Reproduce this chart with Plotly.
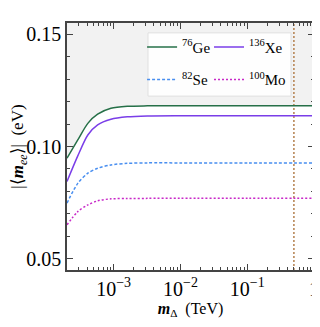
import numpy as np
import plotly.graph_objects as pgo

# m_Delta sample points (TeV) and |<m_ee>| (eV)
m_delta = [2.0e-4, 2.9e-4, 4.1e-4, 5.75e-4, 9.1e-4, 1.6e-3, 3.2e-3, 1e-2, 1e-1, 1.0]
mee_ge = [0.0948, 0.1029, 0.1103, 0.1144, 0.1170, 0.1179, 0.1181, 0.1181, 0.1181, 0.1181]
mee_xe = [0.0844, 0.0958, 0.1051, 0.1096, 0.1121, 0.1132, 0.1136, 0.1137, 0.1137, 0.1137]
mee_se = [0.0748, 0.0836, 0.0881, 0.0903, 0.0918, 0.0925, 0.0927, 0.0927, 0.0927, 0.0927]
mee_mo = [0.0651, 0.0710, 0.0740, 0.0758, 0.0767, 0.0768, 0.0769, 0.0769, 0.0769, 0.0769]

m_cut = 0.5  # TeV, vertical marker

x_range = [2.0e-4, 1.0]
y_range = [0.045, 0.155]

x_tickvals = [1e-3, 1e-2, 1e-1, 1.0]
x_ticktext = ['10<sup>\u22123</sup>', '10<sup>\u22122</sup>', '10<sup>\u22121</sup>', '1']
y_tickvals = [0.05, 0.10, 0.15]
y_ticktext = ['0.05', '0.10', '0.15']

FONT = 'Liberation Serif'
c_ge = 'rgb(38,112,72)'
c_xe = 'rgb(122,62,232)'
c_se = 'rgb(72,142,240)'
c_mo = 'rgb(200,40,200)'

fig = pgo.Figure()

# grey excluded region above the Ge curve
fig.add_trace(pgo.Scatter(x=m_delta, y=[y_range[1]] * len(m_delta), mode='lines',
                          line=dict(width=0), showlegend=False, hoverinfo='skip'))
fig.add_trace(pgo.Scatter(x=m_delta, y=mee_ge, mode='lines', fill='tonexty',
                          fillcolor='rgb(242,242,242)',
                          line=dict(width=0, shape='spline', smoothing=0.8),
                          showlegend=False, hoverinfo='skip'))

# vertical marker
fig.add_trace(pgo.Scatter(x=[m_cut, m_cut], y=y_range, mode='lines',
                          line=dict(color='rgb(180,128,78)', width=1.5, dash='2px,2px'),
                          showlegend=False, hoverinfo='skip'))

series = [
    ('<sup>76</sup>Ge', mee_ge, c_ge, 'solid', 'legend', 'g1'),
    ('<sup>136</sup>Xe', mee_xe, c_xe, 'solid', 'legend2', 'g3'),
    ('<sup>82</sup>Se', mee_se, c_se, '3px,2px', 'legend', 'g2'),
    ('<sup>100</sup>Mo', mee_mo, c_mo, '2px,2px', 'legend2', 'g4'),
]
for name, vals, col, dash, leg, grp in series:
    fig.add_trace(pgo.Scatter(x=m_delta, y=vals, mode='lines', name=name,
                              line=dict(color=col, width=1.5, dash=dash,
                                        shape='spline', smoothing=0.8),
                              legend=leg, legendgroup=grp))

minor_x = [k * 10.0 ** e for e in range(-4, 0) for k in range(2, 10)]
minor_x = [v for v in minor_x if x_range[0] <= v <= x_range[1]]

axis_common = dict(showline=True, linecolor='#444', linewidth=1.5, mirror='ticks',
                   ticks='inside', ticklen=6, tickwidth=1.2, tickcolor='#444',
                   showgrid=False, zeroline=False, automargin=False,
                   tickfont=dict(family=FONT, size=20, color='black'))

fig.update_xaxes(type='log', range=[np.log10(x_range[0]), np.log10(x_range[1])],
                 tickmode='array', tickvals=x_tickvals, ticktext=x_ticktext,
                 minor=dict(tickmode='array', tickvals=minor_x, ticks='inside',
                            ticklen=3, tickcolor='#444', showgrid=False),
                 title=dict(text='<b><i>m</i></b><sub>\u0394</sub>  (TeV)',
                            font=dict(family=FONT, size=16, color='black'), standoff=3),
                 **axis_common)
fig.update_yaxes(range=y_range, tickmode='array', tickvals=y_tickvals, ticktext=y_ticktext,
                 minor=dict(dtick=0.01, tick0=0.05, ticks='inside', ticklen=3,
                            tickcolor='#444', showgrid=False),
                 title=dict(text='|\u27e8<b><i>m</i></b><sub><i>ee</i></sub>\u27e9|  (eV)',
                            font=dict(family=FONT, size=17, color='black'), standoff=4),
                 **axis_common)

legend_common = dict(bgcolor='rgba(0,0,0,0)', borderwidth=0, orientation='v',
                     xanchor='left', yanchor='top', y=0.969, tracegroupgap=10,
                     itemwidth=30, font=dict(family=FONT, size=15, color='black'))

# page body keeps an 8px default margin, so the figure is 8px smaller than the window
fig.update_layout(
    width=312, height=319,
    margin=dict(l=59, r=6, t=15, b=57),
    paper_bgcolor='white', plot_bgcolor='white',
    font=dict(family=FONT, color='black'),
    legend=dict(x=0.304, **legend_common),
    legend2=dict(x=0.575, **legend_common),
    shapes=[dict(type='rect', xref='paper', yref='paper', x0=0.328, x1=0.907,
                 y0=0.704, y1=0.96, fillcolor='rgba(255,255,255,0.9)',
                 line=dict(color='rgb(225,225,225)', width=1), layer='above')],
)

fig.write_html("out.html")
